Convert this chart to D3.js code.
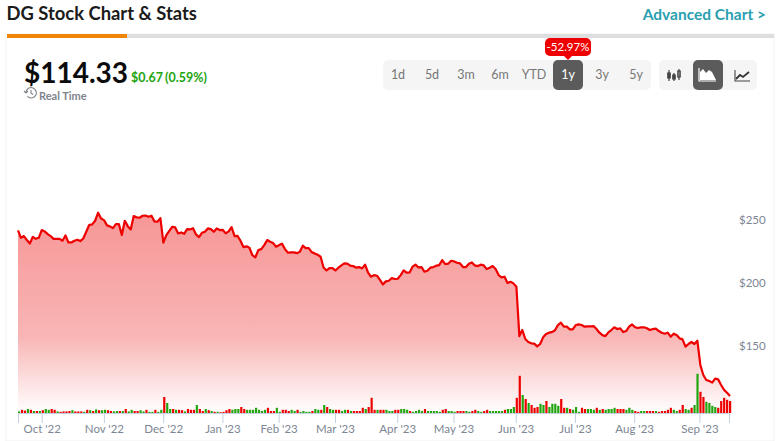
<!DOCTYPE html>
<html>
<head>
<meta charset="utf-8">
<script src="https://cdn.jsdelivr.net/npm/d3@7"></script>
<style>
  html, body { margin: 0; padding: 0; background: #fff; overflow: hidden; }
  text { font-family: Lato, "Open Sans", sans-serif; }
</style>
</head>
<body>
<div id="chart"></div>
<script>
// daily close
const prices = [
  241.7,235.8,237.2,234,231.3,236.6,235,235.8,242,240.9,238.8,237.2,235,235,235,233.5,237.7,232.1,232.1,
  233.5,234.3,233.2,235.3,240.6,246,246.5,249.4,255.8,251.2,249.9,245.7,244.9,243.5,246.7,246.7,238,249.4,245.1,242.5,
  253.1,252.1,251.8,253.4,253.6,252.6,253.4,248.9,248.6,251.5,231.9,238,241.4,244.6,244.1,239.3,240.1,239,
  242.7,242.5,243.5,238.5,236.4,239.8,240.6,243.3,242.7,240.6,243.3,242,242.2,239.3,240.9,244.3,237.2,237.4,233.5,228.4,
  229,227.9,222,220.2,226,226.8,230,234,232.7,
  231.6,228.7,230,231.1,226.8,223.9,224.2,224.2,223.6,224.7,229.5,227.6,227.6,224.4,223.4,222.3,220.7,212.2,209.8,211.7,
  211.7,209.8,212,213.8,215.4,215.2,213.6,213.3,212,212.5,211.4,214.4,208,204.8,206.1,205.6,202.2,198.7,201.1,201.6,
  203.7,203,203.2,206.1,209.8,208,208.2,212.8,214.4,212.2,212.5,208.8,209.6,212,212.5,213.6,214.1,218.1,214.9,215.2,
  217.5,217,215.9,215.4,212.5,212.5,215.2,216.2,213.8,213.3,214.4,213.8,210.9,212,213.3,210.9,206.1,204.3,204.8,199.8,
  200.8,199.5,196.8,
  157.5,162.3,155.2,152.8,151.7,151.5,149.3,151.2,156.5,159.1,160.2,160.7,162.1,166.3,168.2,165,165,162.9,162.9,166.3,
  166.8,166.3,165,165.3,165.3,165.5,163.1,160.2,158.3,157.5,160.5,162.3,164.5,163.1,163.7,160.7,161.5,165,166.8,164.5,
  163.9,164.5,164.5,163.7,162.3,163.1,163.4,161.5,160.2,159.4,160.2,157,159.4,158.3,155.7,154.9,149.1,151.2,152.8,151.2,
  153.8,134.5,126.5,122.5,121.7,120.4,123.6,123,118.5,114.6,112.4,109.8
];

// daily volume in millions of shares
const volumes = [
  .4,.8,.6,1,.8,.5,.5,.5,.7,
  1,.8,1,.8,.4,.3,.4,.4,.5,.7,.4,.4,.4,.3,.8,.7,.5,.9,.7,.7,
  .8,.7,.5,.4,.5,.5,.5,1,.4,.8,.5,.5,.7,.4,.8,.3,.3,.8,.3,.8,
  4,2.5,1,1,.8,.8,.7,.4,1,.8,.8,2,1,.5,1,.7,.5,.3,.3,.2,
  .3,.7,1,.8,1,1,1.5,1,.8,.8,.8,1.3,.8,.5,.8,1.3,.5,.5,1.3,
  .3,.8,.8,.5,.8,.5,.8,.3,.5,.3,.3,.5,1,.8,.8,2,1.5,1,.8,
  .8,.8,.5,.8,.8,.5,.5,.5,.5,1.3,1,1.5,3.8,.8,.8,.8,.8,.8,.5,.5,.8,
  .8,1,1,.8,.5,.3,.5,.8,.5,1,.5,.5,.5,.5,.3,.8,1,.5,.5,
  .3,.5,.5,.5,.5,.3,.5,.8,.5,.3,.5,.8,.5,.5,.5,.5,.5,.8,1,1,1.5,3.8,
  9.3,4.5,3.5,2.5,2,1.3,1.5,2.3,2,3,1.5,2.3,2.3,1.8,
  3.5,1.3,1.3,1,.8,1.5,.3,1.3,1,1,1,.8,1.3,.8,1,.8,1,1,1.3,1,1,1,.8,1.3,.8,
  .5,.3,.5,.5,.5,.5,.5,.5,.3,.5,.5,.8,1.3,.8,.5,.8,2,1,.8,1.3,2,
  9.8,5.3,4,2.8,2.5,1.8,1.5,1.3,3,3.8,3.3,3
];

// u = up day, d = down day, same rows as volumes
const directions = [
  "u d d u d u d u d",
  "u u d d u d d d d u d d d u d u d u d u",
  "u d d u u d u d u u d d u u d u u d u u",
  "d u u d u d d u d d d u d d u d u d u d",
  "d d d u u u d d u u u u u u u d d d u",
  "u d d d u u d u u u u d u u d u d u u",
  "d d u u d u d d d d u d d d u d d u u u d",
  "d u u u d u u u u d u u u u u d d u u",
  "u d d d u u d d u u d d u u u u u d u u u d",
  "d u d u d d d u u d u u u u",
  "d d u d u u u d d u u u d u d u u u u d d d u u u",
  "d d u u d d d u d d d d d u u d d u u d u",
  "u d d u u u u d d d d d"
].join(" ").split(" ");

const tickIndex = [8, 29, 49, 69, 88, 107, 128, 147, 168, 188, 208, 230];
const tickLabels = ["Oct '22", "Nov '22", "Dec '22", "Jan '23", "Feb '23", "Mar '23", "Apr '23", "May '23", "Jun '23", "Jul '23", "Aug '23", "Sep '23"];
const priceTicks = [150, 200, 250];
const ranges = ["1d", "5d", "3m", "6m", "YTD", "1y", "3y", "5y"];
const activeRange = "1y";

const width = 780, height = 441;
const red = "#ee0000", green = "#22a50f";

const svg = d3.select("#chart").append("svg")
  .attr("width", width)
  .attr("height", height)
  .style("display", "block");

const x = d3.scaleLinear().domain([0, prices.length - 1]).range([18, 730]);
const xBar = d3.scaleLinear().domain([0, volumes.length - 1]).range([18, 729]);
const y = d3.scaleLinear().domain([150, 250]).range([345.5, 220]);
const yVol = d3.scaleLinear().domain([0, 10]).range([413, 373]);

// card
svg.append("rect").attr("x", 6).attr("y", 34).attr("width", 768).attr("height", 407)
  .attr("fill", "#fff").attr("stroke", "#f1f1f1").attr("stroke-width", 1);
svg.append("rect").attr("x", 7).attr("y", 34).attr("width", 767).attr("height", 4).attr("fill", "#dedede");
svg.append("rect").attr("x", 7).attr("y", 34).attr("width", 120).attr("height", 4).attr("fill", "#ef8406");

svg.append("text").attr("x", 6.5).attr("y", 20).attr("font-size", 18.4).attr("font-weight", 700)
  .attr("fill", "#1b1b1b").text("DG Stock Chart & Stats");
svg.append("text").attr("x", 766).attr("y", 20).attr("text-anchor", "end").attr("font-size", 15.5).attr("font-weight", 700)
  .attr("fill", "#2a9fb0").text("Advanced Chart >");

// price header
svg.append("text").attr("x", 24).attr("y", 82.5).attr("font-size", 28).attr("font-weight", 700)
  .attr("fill", "#0b0b0b").text("$114.33");
svg.append("text").attr("x", 131).attr("y", 82).attr("font-size", 12.5).attr("font-weight", 700)
  .attr("fill", green).text("$0.67");
svg.append("text").attr("x", 165).attr("y", 82).attr("font-size", 12.5).attr("font-weight", 700)
  .attr("fill", green).text("(0.59%)");
svg.append("text").attr("x", 39).attr("y", 100).attr("font-size", 11).attr("font-weight", 700)
  .attr("fill", "#80848c").text("Real Time");
const clock = svg.append("g").attr("fill", "none").attr("stroke", "#7c8088").attr("stroke-width", 1.1);
clock.append("path").attr("d", "M26 92a5.2 5.2 0 1 1 1.4 4.4");
clock.append("path").attr("d", "M31 90v3.2l2.2 1.3");
clock.append("path").attr("d", "M24 91l2 2 2-2");

// range buttons
const btnX = d3.scalePoint().domain(ranges).range([398, 636]);
svg.append("rect").attr("x", 383).attr("y", 60).attr("width", 268).attr("height", 30).attr("rx", 5).attr("fill", "#f5f5f5");
svg.append("rect").attr("x", btnX(activeRange) - 15).attr("y", 60).attr("width", 30).attr("height", 30).attr("rx", 5).attr("fill", "#5b5b5b");
svg.append("g").selectAll("text").data(ranges).enter().append("text")
  .attr("x", d => btnX(d)).attr("y", 79).attr("text-anchor", "middle").attr("font-size", 12.5)
  .attr("fill", d => d === activeRange ? "#fff" : "#777").text(d => d);

svg.append("path").attr("d", "M563 55h10l-5 5z").attr("fill", red);
svg.append("rect").attr("x", 545).attr("y", 38).attr("width", 46).attr("height", 18).attr("rx", 5).attr("fill", red);
svg.append("text").attr("x", 568).attr("y", 51).attr("text-anchor", "middle").attr("font-size", 11.5)
  .attr("fill", "#fff").text("-52.97%");

// chart type buttons
svg.append("rect").attr("x", 659).attr("y", 60).attr("width", 98).attr("height", 30).attr("rx", 5).attr("fill", "#f5f5f5");
svg.append("rect").attr("x", 693).attr("y", 60).attr("width", 30).attr("height", 30).attr("rx", 5).attr("fill", "#5b5b5b");
const candle = svg.append("g").attr("stroke", "#444").attr("fill", "none").attr("stroke-width", 1.2);
candle.append("path").attr("d", "M669 70v11M674 73v8M679 69v11");
candle.append("rect").attr("x", 667.8).attr("y", 73).attr("width", 2.4).attr("height", 5).attr("fill", "#444");
candle.append("rect").attr("x", 672.8).attr("y", 75).attr("width", 2.4).attr("height", 4).attr("fill", "#444");
candle.append("rect").attr("x", 677.8).attr("y", 71).attr("width", 2.4).attr("height", 6);
svg.append("path").attr("d", "M699 68v13h17").attr("fill", "none").attr("stroke", "#fff").attr("stroke-width", 1.2);
svg.append("path").attr("d", "M700 80v-8l3-3 3 4 3-3 3 2 4 8z").attr("fill", "#fff");
svg.append("path").attr("d", "M735 70v11h15").attr("fill", "none").attr("stroke", "#444").attr("stroke-width", 1.1);
svg.append("path").attr("d", "M736 79l4-4 3 2 6-5").attr("fill", "none").attr("stroke", "#333").attr("stroke-width", 1.8);

// plot
const grad = svg.append("defs").append("linearGradient").attr("id", "areaFill")
  .attr("gradientUnits", "userSpaceOnUse").attr("x1", 0).attr("x2", 0).attr("y1", 225).attr("y2", 413);
grad.append("stop").attr("offset", 0).attr("stop-color", "#f79999");
grad.append("stop").attr("offset", 0.6).attr("stop-color", "#f9b6b6");
grad.append("stop").attr("offset", 1).attr("stop-color", "#ffffff");

const area = d3.area().x((d, i) => x(i)).y0(413).y1(d => y(d));
const line = d3.line().x((d, i) => x(i)).y(d => y(d));

svg.append("path").datum(prices).attr("d", area).attr("fill", "url(#areaFill)");

const xAxis = d3.axisBottom(xBar).tickValues(tickIndex).tickSize(10).tickPadding(1.5)
  .tickFormat((d, i) => tickLabels[i]);
const gx = svg.append("g").attr("transform", "translate(0,413)").call(xAxis);
gx.select(".domain").attr("stroke", "#c6d0e0");
gx.selectAll("line").attr("stroke", "#c6d0e0");
gx.selectAll("text").attr("font-size", 11.5).attr("fill", "#7d8693").style("font-family", "Lato, sans-serif");

const yAxis = d3.axisRight(y).tickValues(priceTicks).tickSize(0).tickFormat(d => "$" + d);
const gy = svg.append("g").attr("transform", "translate(736,0)").call(yAxis);
gy.select(".domain").remove();
gy.selectAll("text").attr("font-size", 11.5).attr("fill", "#7d8693").style("font-family", "Lato, sans-serif");

svg.append("g").selectAll("rect").data(volumes).enter().append("rect")
  .attr("x", (d, i) => xBar(i))
  .attr("y", d => yVol(d))
  .attr("width", 2.2)
  .attr("height", d => 413 - yVol(d))
  .attr("fill", (d, i) => directions[i] === "u" ? green : red);

svg.append("path").datum(prices).attr("d", line).attr("fill", "none").attr("stroke", red)
  .attr("stroke-width", 2.2).attr("stroke-linejoin", "round");
</script>
</body>
</html>
